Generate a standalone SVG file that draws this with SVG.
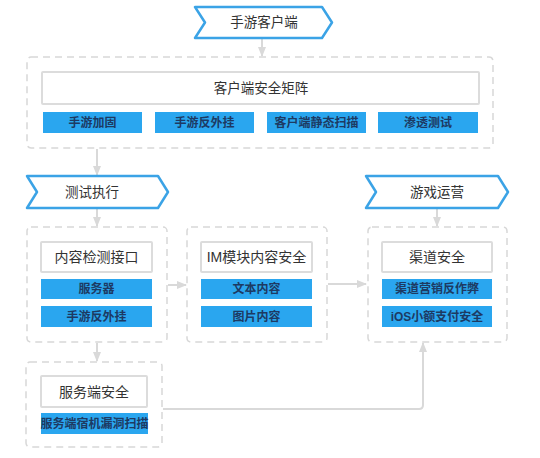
<svg xmlns="http://www.w3.org/2000/svg" width="540" height="458" viewBox="0 0 540 458">
<defs>
<marker id="ah" viewBox="0 0 10 10" refX="9" refY="5" markerWidth="5" markerHeight="5" orient="auto" markerUnits="strokeWidth">
<path d="M0,1 L10,5 L0,9 z" fill="#d9d9d9"/>
</marker>
<style>
.chev{fill:#fff;stroke:#3ba3e6;stroke-width:2.5;stroke-linejoin:round}
.grp{fill:#fff;stroke:#d8d8d8;stroke-width:1.5;stroke-dasharray:7,5}
.tit{fill:#fff;stroke:#dcdcdc;stroke-width:2}
.blu{fill:#2aa6ef}
.t{font-family:"Liberation Sans","Noto Sans CJK SC",sans-serif;fill:#333;text-anchor:middle;dominant-baseline:central}
.t13{font-size:13.5px}
.t14{font-size:14px}
.tb{font-family:"Liberation Sans","Noto Sans CJK SC",sans-serif;font-size:12px;font-weight:bold;fill:#1d3a63;text-anchor:middle;dominant-baseline:central}
.c{fill:none;stroke:#d9d9d9;stroke-width:2;marker-end:url(#ah)}
</style>
</defs>
<rect width="540" height="458" fill="#fff"/>
<g id="connectors">
<path class="c" d="M262,39 V56"/>
<path class="c" d="M97,149 V175"/>
<path class="c" d="M97,209 V226"/>
<path class="c" d="M437,209 V226"/>
<path class="c" d="M168,285 H186"/>
<path class="c" d="M328,284 H366"/>
<path class="c" d="M97,343 V361"/>
<path class="c" d="M163,409 H419 Q423,409 423,405 V343"/>
</g>
<g id="n-client">
<polygon class="chev" points="195,7 322,7 332,22.5 322,38 195,38 205,22.5"/>
<text class="t t13" x="264" y="22.5">手游客户端</text>
</g>
<g id="n-matrix">
<rect class="grp" x="27" y="57" width="466" height="91" rx="4"/>
<rect class="tit" x="42" y="72" width="437" height="32" rx="1"/>
<text class="t t13" x="261" y="88">客户端安全矩阵</text>
<rect class="blu" x="43" y="112" width="99" height="21"/>
<text class="tb" x="92.5" y="122.5">手游加固</text>
<rect class="blu" x="155" y="112" width="99" height="21"/>
<text class="tb" x="204.5" y="122.5">手游反外挂</text>
<rect class="blu" x="267" y="112" width="99" height="21"/>
<text class="tb" x="316.5" y="122.5">客户端静态扫描</text>
<rect class="blu" x="378" y="112" width="100" height="21"/>
<text class="tb" x="428" y="122.5">渗透测试</text>
</g>
<g id="n-test">
<polygon class="chev" points="27,176 158,176 168,192 158,208 27,208 37,192"/>
<text class="t t13" x="92" y="192">测试执行</text>
</g>
<g id="n-ops">
<polygon class="chev" points="366,176 498,176 508,192 498,208 366,208 376,192"/>
<text class="t t13" x="437" y="192">游戏运营</text>
</g>
<g id="n-content">
<rect class="grp" x="27" y="227" width="140" height="115" rx="4"/>
<rect class="tit" x="41" y="242" width="111" height="30" rx="1"/>
<text class="t t14" x="96.5" y="257">内容检测接口</text>
<rect class="blu" x="41" y="279" width="111" height="20"/>
<text class="tb" x="96.5" y="289">服务器</text>
<rect class="blu" x="41" y="306" width="111" height="21"/>
<text class="tb" x="96.5" y="316.5">手游反外挂</text>
</g>
<g id="n-im">
<rect class="grp" x="187" y="227" width="140" height="115" rx="4"/>
<rect class="tit" x="201" y="242" width="111" height="30" rx="1"/>
<text class="t t14" x="256.5" y="257">IM模块内容安全</text>
<rect class="blu" x="201" y="279" width="111" height="20"/>
<text class="tb" x="256.5" y="289">文本内容</text>
<rect class="blu" x="201" y="306" width="111" height="21"/>
<text class="tb" x="256.5" y="316.5">图片内容</text>
</g>
<g id="n-channel">
<rect class="grp" x="368" y="227" width="139" height="115" rx="4"/>
<rect class="tit" x="382" y="242" width="110" height="30" rx="1"/>
<text class="t t14" x="437" y="257">渠道安全</text>
<rect class="blu" x="382" y="279" width="110" height="20"/>
<text class="tb" x="437" y="289">渠道营销反作弊</text>
<rect class="blu" x="382" y="306" width="110" height="21"/>
<text class="tb" x="437" y="316.5">iOS小额支付安全</text>
</g>
<g id="n-server">
<rect class="grp" x="26" y="362" width="136" height="85" rx="4"/>
<rect class="tit" x="41" y="376" width="106" height="31" rx="1"/>
<text class="t t14" x="94" y="391.5">服务端安全</text>
<rect class="blu" x="41" y="413" width="107" height="21"/>
<text class="tb" x="94.5" y="423.5">服务端宿机漏洞扫描</text>
</g>
</svg>
